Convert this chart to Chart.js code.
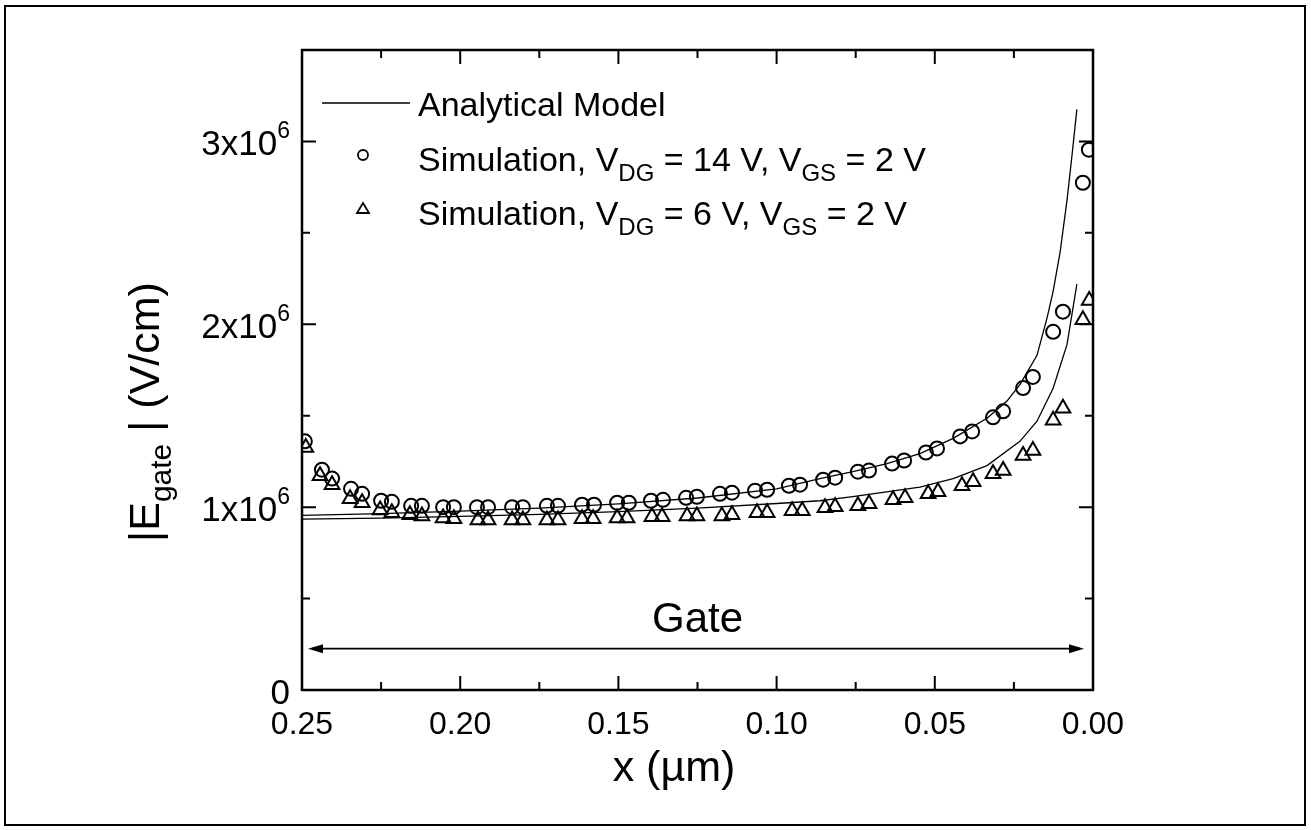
<!DOCTYPE html>
<html>
<head>
<meta charset="utf-8">
<script src="https://cdn.jsdelivr.net/npm/chart.js@4.4.1/dist/chart.umd.min.js"></script>
<style>
html, body { margin: 0; padding: 0; background: #fff; }
#caixa { width: 1311px; height: 830px; position: relative; }
</style>
</head>
<body>
<div id="caixa"><canvas id="grafico"></canvas></div>
<script>
const FONTE = '"Liberation Sans", Arial, Helvetica, sans-serif';

// x em µm, campo em V/cm
const sim14X = [0.2491, 0.2437, 0.2405, 0.2345, 0.2310, 0.2250, 0.2216, 0.2155, 0.2121, 0.2054,
  0.2020, 0.1947, 0.1912, 0.1836, 0.1802, 0.1726, 0.1691, 0.1615, 0.1577, 0.1504,
  0.1467, 0.1397, 0.1359, 0.1286, 0.1252, 0.1179, 0.1141, 0.1068, 0.1030, 0.0961,
  0.0926, 0.0853, 0.0815, 0.0743, 0.0708, 0.0635, 0.0597, 0.0528, 0.0493, 0.0420,
  0.0382, 0.0316, 0.0284, 0.0221, 0.0190, 0.0126, 0.0095, 0.0032, 0.0013];
const sim14Y = [1.36e6, 1.205e6, 1.156e6, 1.10e6, 1.073e6, 1.035e6, 1.029e6, 1.007e6, 1.007e6, 1.0e6,
  1.0e6, 1.0e6, 1.0e6, 1.0e6, 1.0e6, 1.007e6, 1.007e6, 1.013e6, 1.013e6, 1.024e6,
  1.024e6, 1.035e6, 1.04e6, 1.051e6, 1.057e6, 1.073e6, 1.079e6, 1.09e6, 1.095e6, 1.117e6,
  1.123e6, 1.15e6, 1.161e6, 1.194e6, 1.2e6, 1.238e6, 1.255e6, 1.299e6, 1.321e6, 1.387e6,
  1.414e6, 1.491e6, 1.524e6, 1.651e6, 1.712e6, 1.959e6, 2.069e6, 2.774e6, 2.955e6];

const sim6X = [0.2488, 0.2443, 0.2405, 0.2348, 0.2310, 0.2253, 0.2216, 0.2159, 0.2121, 0.2054,
  0.2020, 0.1944, 0.1912, 0.1836, 0.1802, 0.1726, 0.1691, 0.1615, 0.1580, 0.1504,
  0.1473, 0.1394, 0.1362, 0.1283, 0.1252, 0.1173, 0.1141, 0.1062, 0.1030, 0.0951,
  0.0919, 0.0847, 0.0815, 0.0743, 0.0708, 0.0632, 0.0594, 0.0521, 0.0490, 0.0414,
  0.0379, 0.0316, 0.0284, 0.0221, 0.0190, 0.0126, 0.0095, 0.0032, 0.0012];
const sim6Y = [1.326e6, 1.172e6, 1.123e6, 1.046e6, 1.024e6, 0.985e6, 0.969e6, 0.958e6, 0.952e6, 0.941e6,
  0.936e6, 0.930e6, 0.930e6, 0.930e6, 0.930e6, 0.930e6, 0.930e6, 0.936e6, 0.936e6, 0.941e6,
  0.941e6, 0.947e6, 0.947e6, 0.952e6, 0.952e6, 0.952e6, 0.958e6, 0.969e6, 0.969e6, 0.980e6,
  0.980e6, 0.996e6, 1.002e6, 1.007e6, 1.018e6, 1.040e6, 1.051e6, 1.073e6, 1.084e6, 1.117e6,
  1.139e6, 1.183e6, 1.200e6, 1.282e6, 1.310e6, 1.475e6, 1.541e6, 2.025e6, 2.130e6];

const modelo14X = [0.25, 0.225, 0.20, 0.175, 0.15, 0.125, 0.10, 0.0863, 0.0759, 0.0651,
  0.0547, 0.0442, 0.0335, 0.0272, 0.0231, 0.0177, 0.0145, 0.0126, 0.0104, 0.0082, 0.0066, 0.0051];
const modelo14Y = [0.955e6, 0.965e6, 0.978e6, 0.995e6, 1.018e6, 1.05e6, 1.10e6, 1.156e6, 1.194e6, 1.238e6,
  1.293e6, 1.376e6, 1.486e6, 1.58e6, 1.67e6, 1.83e6, 2.036e6, 2.18e6, 2.394e6, 2.68e6, 2.93e6, 3.175e6];

const modelo6X = [0.25, 0.225, 0.20, 0.175, 0.15, 0.125, 0.10, 0.0863, 0.0759, 0.0547,
  0.0442, 0.0335, 0.0231, 0.0177, 0.0126, 0.0082, 0.0051];
const modelo6Y = [0.935e6, 0.94e6, 0.95e6, 0.96e6, 0.975e6, 0.995e6, 1.02e6, 1.035e6, 1.057e6, 1.11e6,
  1.156e6, 1.227e6, 1.36e6, 1.47e6, 1.65e6, 1.89e6, 2.22e6];

const xTicks = [0.25, 0.20, 0.15, 0.10, 0.05, 0.00];
const yTicks = [0, 1e6, 2e6, 3e6];
const yTickLabels = ['0', '1x10', '2x10', '3x10'];
const yTickExpoente = ['', '6', '6', '6'];

const gateInicio = 0.25, gateFim = 0.0, gateNivel = 0.226e6;

function pontos(xs, ys) {
  return xs.map((v, i) => ({ x: v, y: ys[i] }));
}

// escreve uma linha de texto com partes normais e subscritas
function textoComSub(ctx, partes, x, y, tam, tamSub, desce) {
  let pos = x;
  partes.forEach(p => {
    ctx.font = (p.sub ? tamSub : tam) + 'px ' + FONTE;
    ctx.fillText(p.t, pos, p.sub ? y + desce : y);
    pos += ctx.measureText(p.t).width;
  });
  return pos - x;
}
function larguraPartes(ctx, partes, tam, tamSub) {
  let w = 0;
  partes.forEach(p => {
    ctx.font = (p.sub ? tamSub : tam) + 'px ' + FONTE;
    w += ctx.measureText(p.t).width;
  });
  return w;
}

const enfeites = {
  id: 'enfeites',
  afterDraw(chart) {
    const { ctx, chartArea: a, scales: { x, y } } = chart;
    ctx.save();
    ctx.strokeStyle = '#000';
    ctx.fillStyle = '#000';

    // moldura externa
    ctx.lineWidth = 2;
    ctx.strokeRect(5, 6, 1300, 819);

    // moldura do gráfico
    ctx.lineWidth = 2.5;
    ctx.strokeRect(a.left, a.top, a.right - a.left, a.bottom - a.top);

    // marcas dos eixos (para dentro)
    ctx.lineWidth = 2;
    ctx.beginPath();
    xTicks.forEach((v, i) => {
      const px = x.getPixelForValue(v);
      ctx.moveTo(px, a.bottom); ctx.lineTo(px, a.bottom - 14);
      ctx.moveTo(px, a.top); ctx.lineTo(px, a.top + 14);
      if (i < xTicks.length - 1) {
        const pm = x.getPixelForValue((v + xTicks[i + 1]) / 2);
        ctx.moveTo(pm, a.bottom); ctx.lineTo(pm, a.bottom - 8);
        ctx.moveTo(pm, a.top); ctx.lineTo(pm, a.top + 8);
      }
    });
    yTicks.forEach((v, i) => {
      const py = y.getPixelForValue(v);
      ctx.moveTo(a.left, py); ctx.lineTo(a.left + 14, py);
      ctx.moveTo(a.right, py); ctx.lineTo(a.right - 14, py);
      const pm = y.getPixelForValue(v + 0.5e6);
      ctx.moveTo(a.left, pm); ctx.lineTo(a.left + 8, pm);
      ctx.moveTo(a.right, pm); ctx.lineTo(a.right - 8, pm);
    });
    ctx.stroke();

    // rótulos do eixo y com expoente
    ctx.textBaseline = 'alphabetic';
    ctx.textAlign = 'left';
    yTicks.forEach((v, i) => {
      const py = y.getPixelForValue(v);
      ctx.font = '35px ' + FONTE;
      const wb = ctx.measureText(yTickLabels[i]).width;
      ctx.font = '23px ' + FONTE;
      const we = ctx.measureText(yTickExpoente[i]).width;
      const dir = a.left - 12;
      ctx.font = '35px ' + FONTE;
      ctx.fillText(yTickLabels[i], dir - we - wb, py + 14);
      ctx.font = '23px ' + FONTE;
      ctx.fillText(yTickExpoente[i], dir - we, py - 3);
    });

    // título do eixo y
    const tituloY = [{ t: '|E' }, { t: 'gate', sub: true }, { t: ' | (V/cm)' }];
    ctx.save();
    ctx.translate(159, 412);
    ctx.rotate(-Math.PI / 2);
    const wt = larguraPartes(ctx, tituloY, 43, 30);
    textoComSub(ctx, tituloY, -wt / 2, 0, 43, 30, 12);
    ctx.restore();

    // título do eixo x
    ctx.font = '43px ' + FONTE;
    ctx.textAlign = 'center';
    ctx.fillText('x (\u00b5m)', 674, 781);

    // legenda
    ctx.textAlign = 'left';
    ctx.lineWidth = 1.3;
    ctx.beginPath();
    ctx.moveTo(322, 103); ctx.lineTo(410, 103);
    ctx.stroke();
    ctx.font = '34px ' + FONTE;
    ctx.fillText('Analytical Model', 418, 116);
    ctx.lineWidth = 1.8;
    ctx.beginPath();
    ctx.arc(363, 155, 5, 0, Math.PI * 2);
    ctx.stroke();
    textoComSub(ctx, [{ t: 'Simulation, V' }, { t: 'DG', sub: true }, { t: ' = 14 V, V' }, { t: 'GS', sub: true }, { t: ' = 2 V' }],
      418, 171, 34, 24, 10);
    ctx.beginPath();
    ctx.moveTo(363, 203); ctx.lineTo(369, 213); ctx.lineTo(357, 213); ctx.closePath();
    ctx.stroke();
    textoComSub(ctx, [{ t: 'Simulation, V' }, { t: 'DG', sub: true }, { t: ' = 6 V, V' }, { t: 'GS', sub: true }, { t: ' = 2 V' }],
      418, 225, 34, 24, 10);

    // seta do gate
    const gx1 = x.getPixelForValue(gateInicio) + 6;
    const gx2 = x.getPixelForValue(gateFim) - 9;
    const gy = y.getPixelForValue(gateNivel);
    ctx.lineWidth = 1.6;
    ctx.beginPath();
    ctx.moveTo(gx1 + 4, gy); ctx.lineTo(gx2 - 4, gy);
    ctx.stroke();
    ctx.beginPath();
    ctx.moveTo(gx1, gy); ctx.lineTo(gx1 + 15, gy - 4.5); ctx.lineTo(gx1 + 15, gy + 4.5); ctx.closePath();
    ctx.moveTo(gx2, gy); ctx.lineTo(gx2 - 15, gy - 4.5); ctx.lineTo(gx2 - 15, gy + 4.5); ctx.closePath();
    ctx.fill();
    ctx.font = '42px ' + FONTE;
    ctx.textAlign = 'center';
    ctx.fillText('Gate', x.getPixelForValue((gateInicio + gateFim) / 2), gy - 17);

    ctx.restore();
  }
};

new Chart(document.getElementById('grafico'), {
  type: 'scatter',
  data: {
    datasets: [
      {
        label: 'Analytical Model (14 V)',
        data: pontos(modelo14X, modelo14Y),
        showLine: true, borderColor: '#000', borderWidth: 1.3,
        pointRadius: 0, tension: 0, clip: 0
      },
      {
        label: 'Analytical Model (6 V)',
        data: pontos(modelo6X, modelo6Y),
        showLine: true, borderColor: '#000', borderWidth: 1.3,
        pointRadius: 0, tension: 0, clip: 0
      },
      {
        label: 'Simulation, VDG = 14 V, VGS = 2 V',
        data: pontos(sim14X, sim14Y),
        pointStyle: 'circle', pointRadius: 7, pointBorderWidth: 2,
        borderColor: '#000', backgroundColor: 'rgba(0,0,0,0)', clip: 0
      },
      {
        label: 'Simulation, VDG = 6 V, VGS = 2 V',
        data: pontos(sim6X, sim6Y),
        pointStyle: 'triangle', pointRadius: 8.5, pointBorderWidth: 2,
        borderColor: '#000', backgroundColor: 'rgba(0,0,0,0)', clip: 0
      }
    ]
  },
  options: {
    responsive: true,
    maintainAspectRatio: false,
    animation: false,
    layout: { padding: { top: 50, right: 218, left: 0, bottom: 0 } },
    plugins: { legend: { display: false }, tooltip: { enabled: false } },
    scales: {
      x: {
        type: 'linear', reverse: true, min: 0, max: 0.25,
        grid: { display: false, drawTicks: false },
        border: { display: false },
        ticks: {
          stepSize: 0.05, autoSkip: false, maxRotation: 0, padding: 16,
          color: '#000', font: { size: 32, family: FONTE },
          callback: v => v.toFixed(2)
        },
        afterFit: s => { s.height = 140; }
      },
      y: {
        type: 'linear', min: 0, max: 3.5e6,
        grid: { display: false, drawTicks: false },
        border: { display: false },
        ticks: { display: false },
        afterFit: s => { s.width = 302; }
      }
    }
  },
  plugins: [enfeites]
});
</script>
</body>
</html>
